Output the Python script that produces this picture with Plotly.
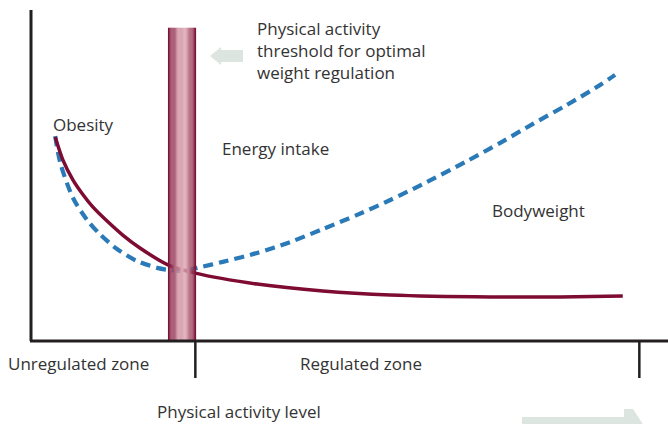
import plotly.graph_objects as go
import math

# ---- data (abstract units: physical activity level 0-100, level 0-100) ----
bodyweight_x = [3.8, 5.0, 6.6, 8.2, 9.7, 11.9, 14.4, 17.1, 21.5, 25.8, 35.5, 45.8, 56.4, 72.1, 83.0, 92.9]
bodyweight_y = [61.6, 54.7, 48.6, 44.1, 40.5, 36.3, 32.0, 28.1, 23.0, 20.5, 17.2, 15.1, 13.9, 13.3, 13.3, 13.6]

intake_x = [3.8, 4.6, 6.6, 8.8, 10.8, 13.5, 16.6, 19.8, 21.5, 23.7, 26.1, 30.1, 35.5, 40.7, 45.8, 51.2,
            56.4, 61.5, 68.5, 73.6, 78.8, 84.1, 89.3, 91.7]
intake_y = [61.9, 53.8, 43.2, 36.6, 32.3, 27.8, 24.2, 22.1, 21.5, 21.2, 22.1, 23.9, 26.6, 29.9, 33.8, 38.1,
            42.6, 47.4, 54.4, 59.8, 65.6, 71.3, 77.3, 80.4]

threshold_x = 23.7      # physical activity threshold
threshold_halfwidth = 2.2
threshold_top = 94.6
zone_bounds = [25.8, 95.5]   # regulated zone from/to

zone_labels = ["Unregulated zone", "Regulated zone"]
x_title = "Physical activity level"
threshold_text = "Physical activity<br>threshold for optimal<br>weight regulation"

# ---- layout geometry (pixels) ----
W, H = 668, 424
L, R, T, B = 31, 0, 10, 83
PW, PH = W - L - R, H - T - B

def px(x):
    return (x - L) / PW

def py(y):
    return (H - B - y) / PH

FONT = "Open Sans"
TXT = "#333333"
AX = "#231f20"

fig = go.Figure()

fig.add_trace(go.Scatter(
    x=intake_x, y=intake_y, mode="lines",
    line=dict(color="#2a7ab8", width=4.2, dash="10px,6px", shape="spline", smoothing=0.8),
    hoverinfo="skip", showlegend=False))
fig.add_trace(go.Scatter(
    x=bodyweight_x, y=bodyweight_y, mode="lines",
    line=dict(color="#7d0b32", width=3.5, shape="spline", smoothing=0.8),
    hoverinfo="skip", showlegend=False))

shapes = []

# gradient threshold bar (vertical stripes)
N = 24
dark = (122, 16, 52)
light = (222, 170, 182)
x0 = threshold_x - threshold_halfwidth
w = 2 * threshold_halfwidth / N
for i in range(N):
    t = (i + 0.5) / N
    d = (t - 0.55) / (0.55 if t < 0.55 else 0.45)
    f = max(0.0, math.cos(d * math.pi / 2)) ** 1.3
    c = tuple(int(dark[k] + (light[k] - dark[k]) * f) for k in range(3))
    shapes.append(dict(type="rect", xref="x", yref="y",
                       x0=x0 + i * w, x1=x0 + (i + 1) * w + 0.02,
                       y0=0, y1=threshold_top,
                       line=dict(width=0), fillcolor="rgb(%d,%d,%d)" % c, layer="above"))

# axis lines
shapes.append(dict(type="line", xref="paper", yref="paper", x0=px(31), x1=px(31), y0=py(341), y1=py(10),
                   line=dict(color=AX, width=3)))
shapes.append(dict(type="line", xref="paper", yref="paper", x0=px(30), x1=px(668), y0=py(341), y1=py(341),
                   line=dict(color=AX, width=3)))
# zone boundary ticks
for zb in zone_bounds:
    shapes.append(dict(type="line", xref="paper", yref="paper", x0=zb / 100, x1=zb / 100,
                       y0=py(341), y1=py(378), line=dict(color=AX, width=2.5)))

ARROW = "#dde5e1"
def path(pts):
    return "M " + " L ".join("%.5f,%.5f" % (px(a), py(b)) for a, b in pts) + " Z"

shapes.append(dict(type="path", xref="paper", yref="paper",
                   path=path([(243, 50), (221, 50), (221, 47), (210, 56), (221, 65), (221, 62), (243, 62)]),
                   fillcolor=ARROW, line=dict(width=0)))
shapes.append(dict(type="path", xref="paper", yref="paper",
                   path=path([(522, 417), (624, 417), (624, 409), (633, 409), (648, 432), (522, 432)]),
                   fillcolor=ARROW, line=dict(width=0)))

def ann(text, x, y, xanchor="left", size=17):
    return dict(text=text, x=px(x), y=py(y), xref="paper", yref="paper",
                xanchor=xanchor, yanchor="middle", align="left", showarrow=False,
                font=dict(family=FONT, size=size, color=TXT))

annotations = [
    ann(threshold_text, 255, 51),
    ann("Obesity", 51, 124),
    ann("Energy intake", 220, 148),
    ann("Bodyweight", 490, 210),
    ann(zone_labels[0], 6, 363),
    ann(zone_labels[1], 298, 363),
    ann(x_title, 155, 411),
]

fig.update_layout(
    width=W, height=H,
    margin=dict(l=L, r=R, t=T, b=B),
    paper_bgcolor="white", plot_bgcolor="white",
    xaxis=dict(range=[0, 100], visible=False, fixedrange=True),
    yaxis=dict(range=[0, 100], visible=False, fixedrange=True),
    shapes=shapes, annotations=annotations,
    showlegend=False,
)

fig.write_html("out.html", config={"displayModeBar": False},
               post_script="document.body.style.margin='0';document.body.style.overflow='hidden';")
